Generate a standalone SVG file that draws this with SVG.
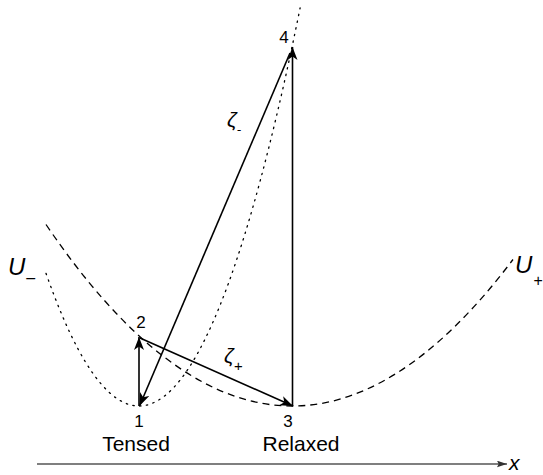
<svg xmlns="http://www.w3.org/2000/svg" width="543" height="475" viewBox="0 0 543 475">
<style>
text{font-family:"Liberation Sans",Arial,sans-serif;fill:#000}
.it{font-style:italic}
.conn{stroke:#000;fill:none;stroke-width:1.6}
.curve{fill:none;stroke:#000;stroke-width:1.3}
</style>
<defs>
<marker id="ah" viewBox="0 0 13 10" refX="13" refY="5" markerWidth="13" markerHeight="10" markerUnits="userSpaceOnUse" orient="auto">
<path d="M0,0 L13,5 L0,10 L3.5,5 z" fill="#000"/>
</marker>
<marker id="ahg" viewBox="0 0 12 8" refX="12" refY="4" markerWidth="10" markerHeight="7" markerUnits="userSpaceOnUse" orient="auto">
<path d="M0,0 L12,4 L0,8 L2,4 z" fill="#333"/>
</marker>
</defs>
<g id="curves">
<path id="U-minus-curve" class="curve" stroke-dasharray="1.4 5.4" stroke-linecap="round" d="M46,273.3 Q173.05,635.8 300.1,8"/>
<path id="U-plus-curve" class="curve" stroke-dasharray="7 5" d="M46,224.5 Q279.5,569.1 513,259.5"/>
</g>
<g id="axis">
<line x1="37" y1="464" x2="507" y2="464" stroke="#555" stroke-width="1.6" marker-end="url(#ahg)"/>
<text class="it" x="509" y="470" font-size="21">x</text>
</g>
<g id="connectors">
<line class="conn" x1="139" y1="406" x2="139" y2="337" stroke-width="2.4" marker-end="url(#ah)"/>
<line class="conn" x1="140" y1="338" x2="293" y2="406" marker-end="url(#ah)"/>
<line class="conn" x1="292.5" y1="406" x2="292.5" y2="47" marker-end="url(#ah)"/>
<line class="conn" x1="290" y1="53" x2="139.5" y2="406" marker-end="url(#ah)"/>
</g>
<g id="node1"><text x="139" y="427" font-size="17" text-anchor="middle">1</text><text x="136" y="451" font-size="21" text-anchor="middle">Tensed</text></g>
<g id="node2"><text x="141" y="328" font-size="17" text-anchor="middle">2</text></g>
<g id="node3"><text x="288" y="427" font-size="17" text-anchor="middle">3</text><text x="301" y="451" font-size="21" text-anchor="middle">Relaxed</text></g>
<g id="node4"><text x="284" y="43" font-size="17" text-anchor="middle">4</text></g>
<g id="labels">
<text class="it" x="8" y="275" font-size="24">U<tspan font-size="16" dx="1" dy="8">–</tspan></text>
<text class="it" x="515" y="273" font-size="24">U<tspan font-size="16" dx="1" dy="13">+</tspan></text>
<text class="it" x="227" y="127" font-size="21">ζ<tspan font-size="13" dy="7">-</tspan></text>
<text class="it" x="224" y="363" font-size="21">ζ<tspan font-size="15" dy="8">+</tspan></text>
</g>
</svg>
